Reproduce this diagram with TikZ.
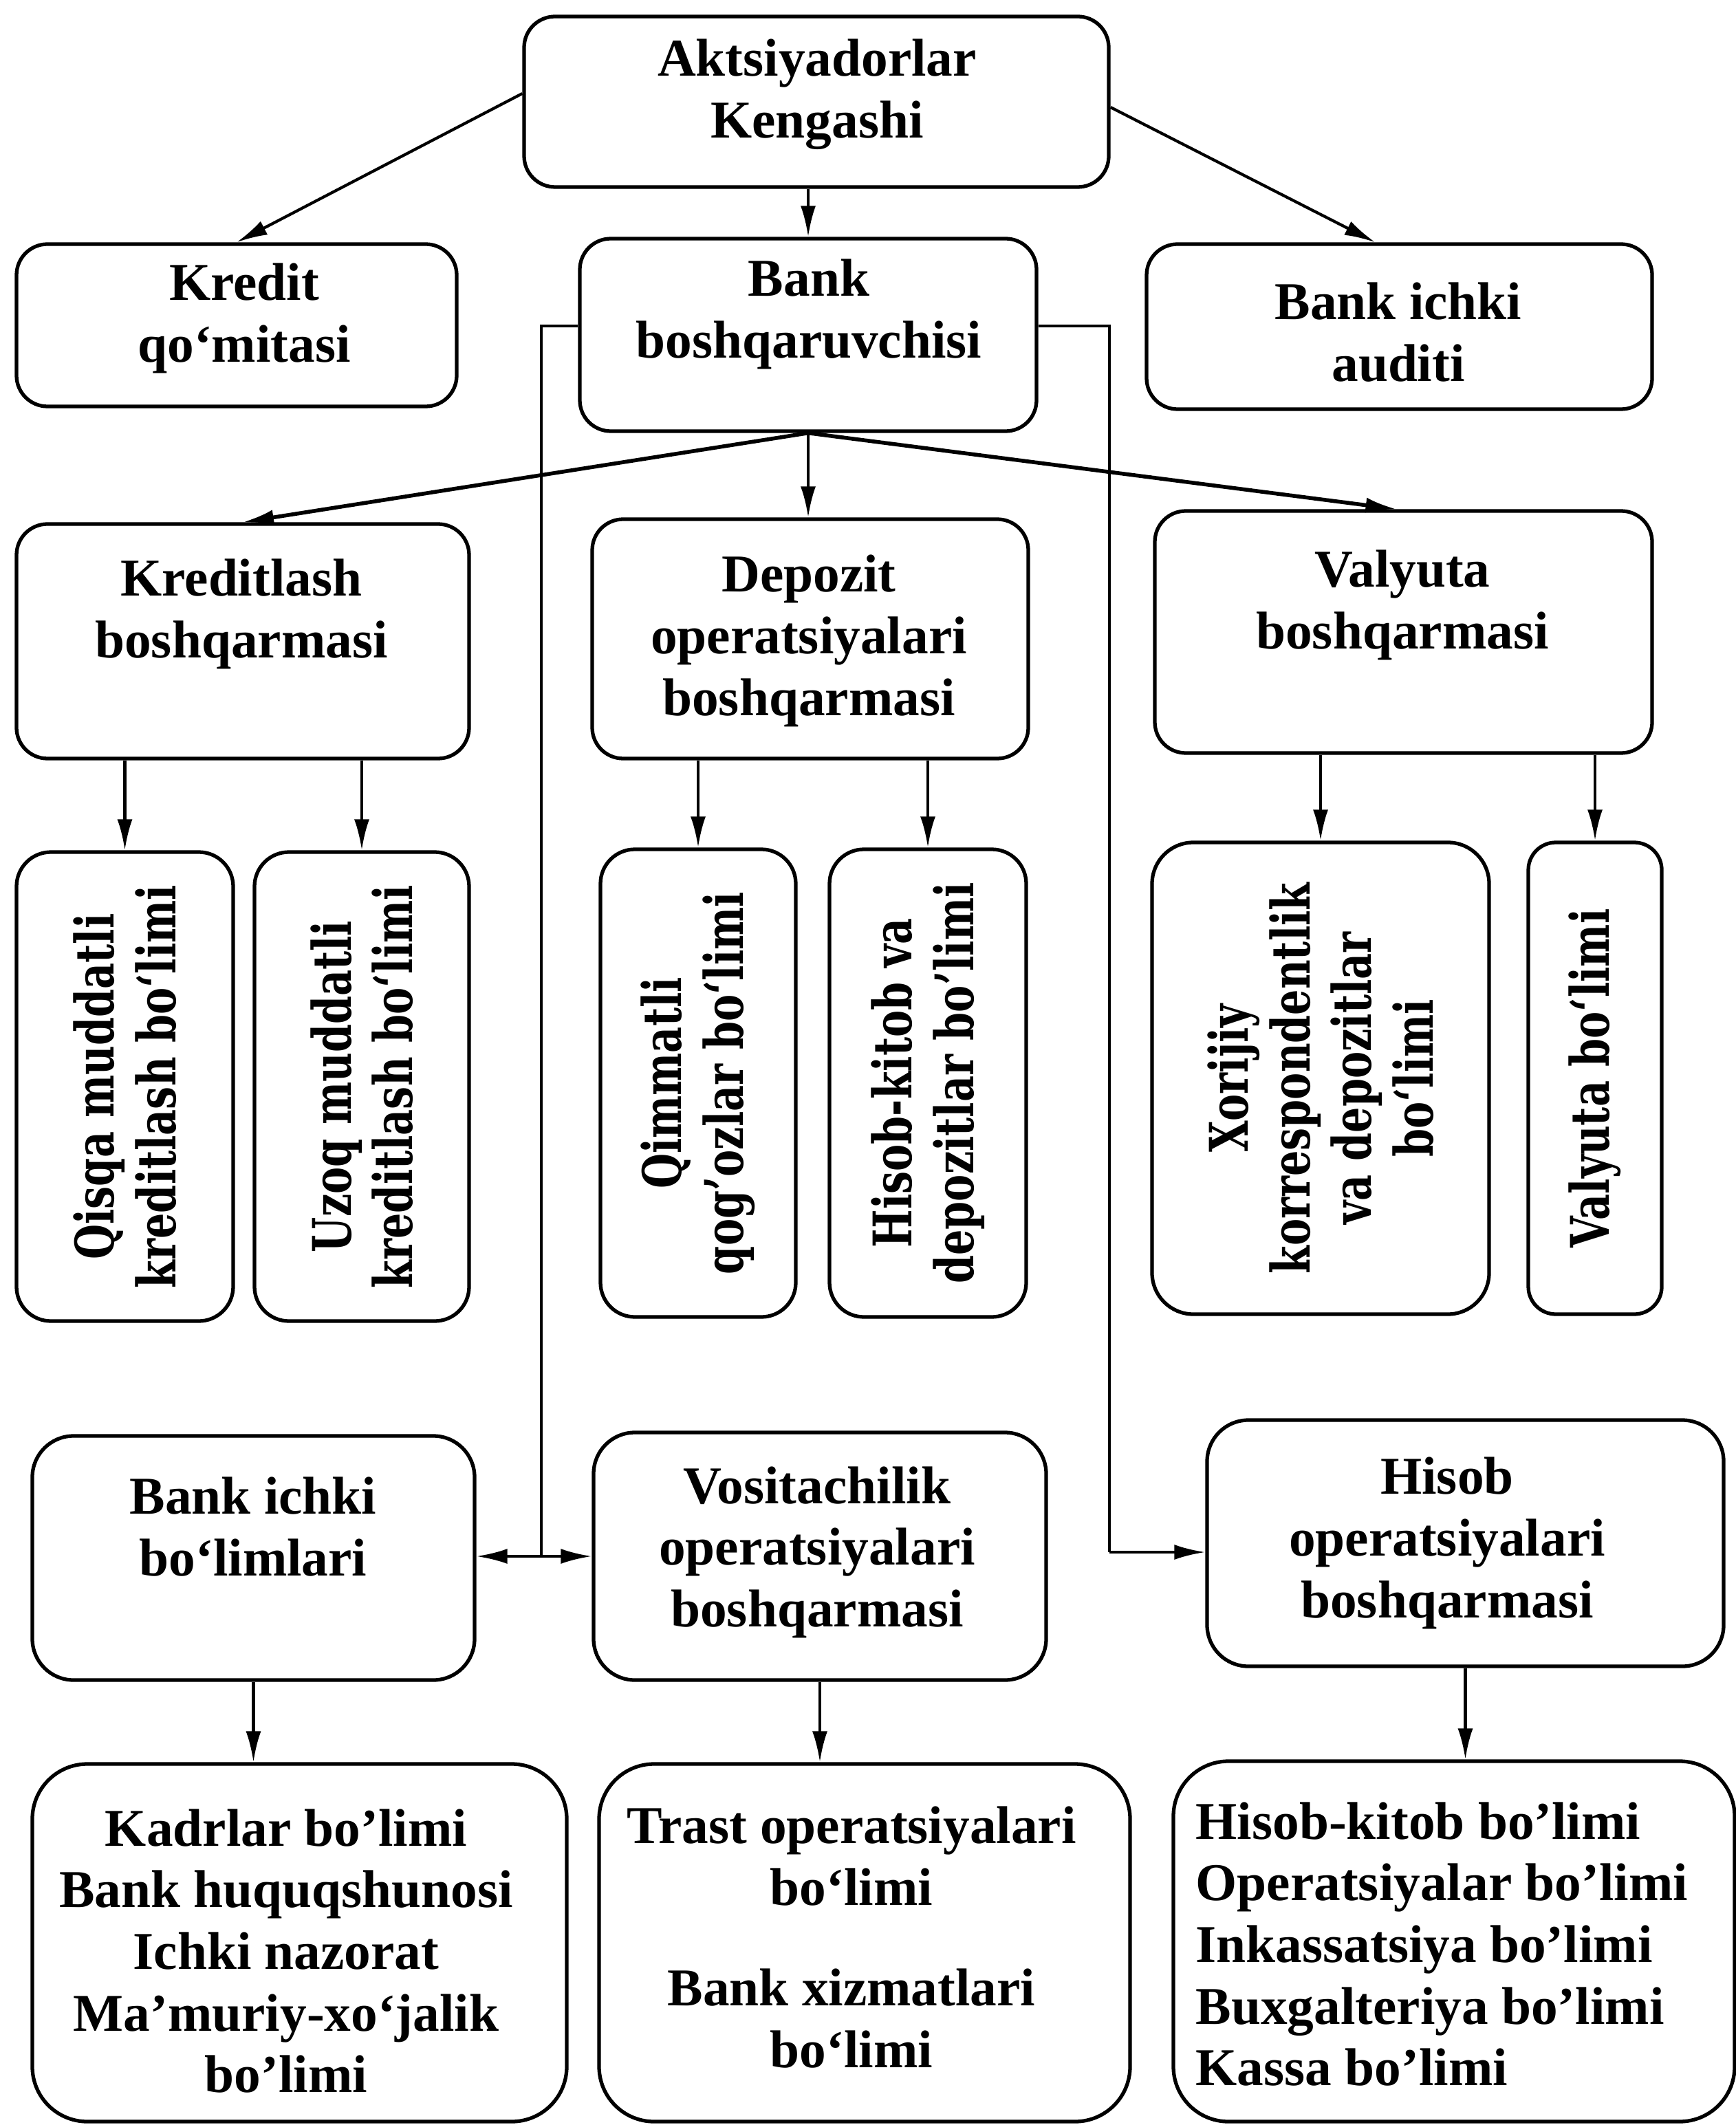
\documentclass[tikz,border=0pt]{standalone}
\usepackage{fontspec}
\setmainfont{Liberation Serif}
\newfontfamily\vertfont[FakeStretch=0.76]{DejaVu Serif}
\usetikzlibrary{arrows.meta}

\tikzset{
  box/.style={draw, line width=1.5pt, rounded corners=0.45cm, inner sep=0pt},
  bigbox/.style={box, rounded corners=0.8cm},
  hlabel/.style={font=\bfseries\fontsize{22}{25.5}\selectfont, align=center, inner sep=0pt},
  vlabel/.style={rotate=90, font=\vertfont\bfseries\fontsize{22}{25.5}\selectfont, align=center, inner sep=0pt},
  conn/.style={line width=1.2pt, -{Latex[length=4.5mm,width=2.2mm]}},
}

\begin{document}
\begin{tikzpicture}
    \useasboundingbox (0,0) rectangle (25.24,-30.90);

    % Top levels
    \node[box, minimum width=8.5cm, minimum height=2.48cm] (akt) at (11.87,-1.48) {};
    \node[box, minimum width=6.4cm, minimum height=2.36cm] (kom) at (3.44,-4.73) {};
    \node[box, minimum width=6.64cm, minimum height=2.8cm] (boshq) at (11.75,-4.87) {};
    \node[box, minimum width=7.35cm, minimum height=2.4cm] (audit) at (20.345,-4.75) {};
    \node[hlabel] (akt-t) at (11.88,-1.37) {Aktsiyadorlar\\Kengashi};
    \node[hlabel] (kom-t) at (3.55,-4.63) {Kredit\\qo‘mitasi};
    \node[hlabel] (boshq-t) at (11.76,-4.57) {Bank\\boshqaruvchisi};
    \node[hlabel] (audit-t) at (20.33,-4.83) {Bank ichki\\auditi};

    % Boshqarmalar
    \node[box, minimum width=6.58cm, minimum height=3.41cm] (kredb) at (3.53,-9.325) {};
    \node[box, minimum width=6.34cm, minimum height=3.48cm] (depb) at (11.78,-9.29) {};
    \node[box, minimum width=7.23cm, minimum height=3.52cm] (valb) at (20.405,-9.19) {};
    \node[hlabel] (kredb-t) at (3.51,-8.93) {Kreditlash\\boshqarmasi};
    \node[hlabel] (depb-t) at (11.76,-9.32) {Depozit\\operatsiyalari\\boshqarmasi};
    \node[hlabel] (valb-t) at (20.39,-8.80) {Valyuta\\boshqarmasi};

    % Vertical boxes
    \node[box, rounded corners=0.5cm, minimum width=3.15cm, minimum height=6.82cm] (qisqa) at (1.815,-15.8) {};
    \node[box, rounded corners=0.5cm, minimum width=3.12cm, minimum height=6.82cm] (uzoq) at (5.26,-15.8) {};
    \node[box, rounded corners=0.5cm, minimum width=2.84cm, minimum height=6.8cm] (qimm) at (10.15,-15.75) {};
    \node[box, rounded corners=0.5cm, minimum width=2.86cm, minimum height=6.8cm] (hisdep) at (13.49,-15.75) {};
    \node[box, rounded corners=0.6cm, minimum width=4.9cm, minimum height=6.86cm] (xor) at (19.2,-15.68) {};
    \node[box, rounded corners=0.4cm, minimum width=1.94cm, minimum height=6.86cm] (valbol) at (23.19,-15.68) {};
    \node[vlabel] (qisqa-t) at (qisqa) {Qisqa muddatli\\kreditlash bo‘limi};
    \node[vlabel] (uzoq-t) at (uzoq) {Uzoq muddatli\\kreditlash bo‘limi};
    \node[vlabel] (qimm-t) at (qimm) {Qimmatli\\qog’ozlar bo‘limi};
    \node[vlabel] (hisdep-t) at (hisdep) {Hisob-kitob va\\depozitlar bo’limi};
    \node[vlabel] (xor-t) at (xor) {Xorijiy\\korrespondentlik\\va depozitlar\\bo‘limi};
    \node[vlabel] (valbol-t) at (valbol) {Valyuta bo‘limi};

    % Lower row
    \node[box, rounded corners=0.6cm, minimum width=6.43cm, minimum height=3.55cm] (ichki) at (3.685,-22.655) {};
    \node[box, rounded corners=0.6cm, minimum width=6.58cm, minimum height=3.6cm] (vosit) at (11.92,-22.63) {};
    \node[box, rounded corners=0.6cm, minimum width=7.51cm, minimum height=3.58cm] (hisop) at (21.305,-22.44) {};
    \node[hlabel] (ichki-t) at (3.68,-22.20) {Bank ichki\\bo‘limlari};
    \node[hlabel] (vosit-t) at (11.88,-22.57) {Vositachilik\\operatsiyalari\\boshqarmasi};
    \node[hlabel] (hisop-t) at (21.04,-22.44) {Hisob\\operatsiyalari\\boshqarmasi};

    % Bottom row
    \node[bigbox, minimum width=7.77cm, minimum height=5.2cm] (kadr) at (4.355,-28.25) {};
    \node[bigbox, minimum width=7.72cm, minimum height=5.2cm] (trast) at (12.57,-28.25) {};
    \node[bigbox, minimum width=8.16cm, minimum height=5.24cm] (hislist) at (21.14,-28.23) {};
    \node[hlabel] (kadr-t) at (4.16,-28.37) {Kadrlar bo’limi\\Bank huquqshunosi\\Ichki nazorat\\Ma’muriy-xo‘jalik\\bo’limi};
    \node[hlabel] (trast-t) at (12.38,-28.17) {Trast operatsiyalari\\bo‘limi\\[16pt]Bank xizmatlari\\bo‘limi};
    \node[hlabel, align=left, anchor=west] (hislist-t) at (17.38,-28.27) {Hisob-kitob bo’limi\\Operatsiyalar bo’limi\\Inkassatsiya bo’limi\\Buxgalteriya bo’limi\\Kassa bo’limi};

    % Connectors from the top
    \draw[conn] ([yshift=0.12cm]akt.west) -- (kom.north);
    \draw[conn] (boshq.north |- akt.south) -- (boshq.north);
    \draw[conn] ([yshift=-0.08cm]akt.east) -- ([xshift=-0.35cm]audit.north);
    \draw[conn, line width=1.6pt] (boshq.south) -- (kredb.north);
    \draw[conn] (boshq.south) -- (boshq.south |- depb.north);
    \draw[conn, line width=1.6pt] (boshq.south) -- ([xshift=-0.1cm]valb.north);

    % Side lines of boshqaruvchi
    \coordinate (lbend) at (7.87,-4.74);
    \coordinate (ljoin) at (7.87,-22.63);
    \coordinate (rbend) at (16.13,-4.74);
    \coordinate (rjoin) at (16.13,-22.57);
    \draw[line width=1pt] (boshq.west |- lbend) -- (lbend) -- (ljoin);
    \draw[line width=1.2pt, {Latex[length=4.5mm,width=2.2mm]}-{Latex[length=4.5mm,width=2.2mm]}] (ichki.east |- ljoin) -- (vosit.west |- ljoin);
    \draw[line width=1pt] (boshq.east |- rbend) -- (rbend) -- (rjoin);
    \draw[conn] (rjoin) -- (hisop.west |- rjoin);

    % Down to the sections
    \foreach \from/\to in {kredb/qisqa, kredb/uzoq, depb/qimm, depb/hisdep, valb/xor, valb/valbol}
    {
        \draw[conn] (\to.north |- \from.south) -- (\to.north);
    }
    \foreach \from/\to in {ichki/kadr, vosit/trast, hisop/hislist}
    {
        \draw[conn] (\from.south) -- (\from.south |- \to.north);
    }
\end{tikzpicture}
\end{document}
